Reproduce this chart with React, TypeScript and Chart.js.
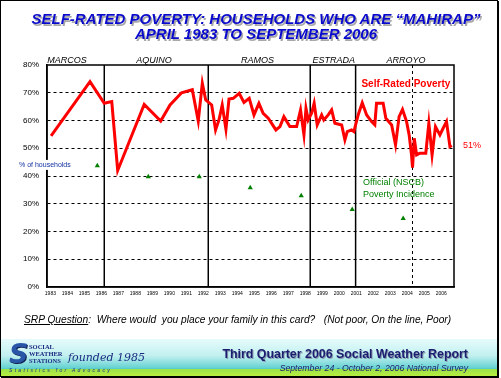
import React, { useEffect, useRef } from 'react';
import { Chart, registerables } from 'chart.js';

Chart.register(...registerables);

// Self-rated poverty survey dates (decimal years) and values (%)
const srpDates = [
  1983.04, 1985.33, 1986.17, 1986.61, 1986.96, 1988.52, 1989.49, 1990.04, 1990.72, 1991.35,
  1991.70, 1991.94, 1992.14, 1992.49, 1992.72, 1992.92, 1993.11, 1993.33, 1993.51, 1993.76,
  1994.11, 1994.39, 1994.70, 1994.98, 1995.27, 1995.52, 1995.82, 1996.27, 1996.51, 1996.74,
  1997.09, 1997.49, 1997.72, 1997.92, 1998.04, 1998.17, 1998.37, 1998.52, 1998.70, 1998.96,
  1999.09, 1999.35, 1999.55, 1999.74, 2000.14, 2000.33, 2000.47, 2000.72, 2000.86, 2001.11,
  2001.35, 2001.61, 2001.90, 2002.09, 2002.19, 2002.58, 2002.74, 2003.08, 2003.31, 2003.52,
  2003.72, 2003.96, 2004.11, 2004.25, 2004.31, 2004.41, 2004.55, 2004.74, 2005.09, 2005.27,
  2005.46, 2005.66, 2005.92, 2006.11, 2006.31, 2006.51, 2006.62,
];
const srpValues = [
  54.5, 74, 66.2, 66.8, 42, 65.8, 59.8, 65.6, 70, 71.1,
  59.8, 73.4, 67.4, 65.6, 56.6, 60.2, 65.6, 56.9, 67.7, 68,
  69.8, 66.5, 68, 62, 66.2, 62.6, 60.8, 56.6, 57.8, 61.4,
  57.8, 57.8, 63.8, 54.8, 64.4, 60.2, 62.6, 66.2, 58.4, 62,
  60.2, 62, 63.8, 59, 58.4, 53, 56, 56.6, 56, 62,
  66.4, 62, 59.6, 58.4, 66.2, 66.2, 60.8, 58.4, 51.2, 61.4,
  64, 59.6, 54.8, 47.6, 43, 53.6, 47.6, 48.2, 48.2, 59,
  47.6, 57.8, 54.8, 57.2, 59.6, 50.6, 51,
];

// Official (NSCB) poverty incidence
const nscbDates = [1985.76, 1988.76, 1991.76, 1994.76, 1997.76, 2000.76, 2003.76];
const nscbValues = [43.7, 39.7, 39.7, 35.8, 32.9, 27.9, 24.7];

const yearTicks = [
  1983, 1984, 1985, 1986, 1987, 1988, 1989, 1990, 1991, 1992, 1993, 1994,
  1995, 1996, 1997, 1998, 1999, 2000, 2001, 2002, 2003, 2004, 2005, 2006,
];
const yTicks = [0, 10, 20, 30, 40, 50, 60, 70, 80];

const presidents = ['MARCOS', 'AQUINO', 'RAMOS', 'ESTRADA', 'ARROYO'];
const presidentLabelDates = [1983.98, 1989.09, 1995.18, 1999.68, 2003.92];
const transitionDates = [1986.17, 1992.29, 1998.29, 2000.96];
const electionDates = [2004.25];

const FONT = '"Liberation Sans", Arial, sans-serif';

const annotations = {
  id: 'annotations',
  beforeDatasetsDraw(chart: any) {
    const { ctx, chartArea: a, scales } = chart;
    const x = scales.x;
    ctx.save();
    ctx.strokeStyle = '#000';
    ctx.lineWidth = 1.5;
    transitionDates.forEach((d) => {
      const px = x.getPixelForValue(d);
      ctx.beginPath();
      ctx.moveTo(px, a.top);
      ctx.lineTo(px, a.bottom);
      ctx.stroke();
    });
    ctx.lineWidth = 1;
    ctx.setLineDash([3, 3]);
    electionDates.forEach((d) => {
      const px = Math.round(x.getPixelForValue(d)) + 0.5;
      ctx.beginPath();
      ctx.moveTo(px, a.top);
      ctx.lineTo(px, a.bottom);
      ctx.stroke();
    });
    ctx.restore();
  },
  afterDatasetsDraw(chart: any) {
    const { ctx, chartArea: a, scales } = chart;
    const x = scales.x;
    const y = scales.y;
    ctx.save();
    ctx.strokeStyle = '#000';
    ctx.lineWidth = 1.5;
    ctx.strokeRect(a.left, a.top, a.right - a.left, a.bottom - a.top);

    ctx.fillStyle = '#000';
    ctx.font = `italic 9px ${FONT}`;
    ctx.textAlign = 'center';
    ctx.textBaseline = 'middle';
    presidents.forEach((p, i) => {
      ctx.fillText(p, x.getPixelForValue(presidentLabelDates[i]), a.top - 5);
    });

    ctx.fillStyle = '#ff0000';
    ctx.font = `bold 10px ${FONT}`;
    ctx.fillText('Self-Rated Poverty', x.getPixelForValue(2003.92), y.getPixelForValue(73.2));

    ctx.font = `9px ${FONT}`;
    ctx.textAlign = 'left';
    ctx.fillText(`${srpValues[srpValues.length - 1]}%`, a.right + 9, y.getPixelForValue(51));

    ctx.fillStyle = '#008000';
    ctx.fillText('Official (NSCB)', x.getPixelForValue(2001.4), y.getPixelForValue(37.5));
    ctx.fillText('Poverty Incidence', x.getPixelForValue(2001.4), y.getPixelForValue(33.5));

    ctx.font = `7px ${FONT}`;
    const label = '% of households';
    const w = ctx.measureText(label).width;
    const ly = y.getPixelForValue(44);
    ctx.fillStyle = '#fff';
    ctx.fillRect(18, ly - 5, w + 2, 10);
    ctx.fillStyle = '#1030a0';
    ctx.fillText(label, 19, ly);
    ctx.restore();
  },
};

export default function App() {
  const ref = useRef<HTMLCanvasElement>(null);

  useEffect(() => {
    if (!ref.current) return;
    const chart = new Chart(ref.current, {
      type: 'line',
      data: {
        datasets: [
          {
            label: 'Self-Rated Poverty',
            data: srpDates.map((d, i) => ({ x: d, y: srpValues[i] })),
            borderColor: '#ff0000',
            backgroundColor: '#ff0000',
            borderWidth: 3,
            pointRadius: 0,
            tension: 0,
          },
          {
            label: 'Official (NSCB) Poverty Incidence',
            data: nscbDates.map((d, i) => ({ x: d, y: nscbValues[i] })),
            showLine: false,
            pointStyle: 'triangle',
            pointRadius: 3,
            borderWidth: 0,
            backgroundColor: '#008000',
            borderColor: '#008000',
          },
        ],
      },
      options: {
        animation: false,
        responsive: false,
        layout: { padding: { left: 15, top: 65, right: 47, bottom: 79 } },
        plugins: { legend: { display: false }, tooltip: { enabled: false }, title: { display: false } },
        scales: {
          x: {
            type: 'linear',
            min: 1982.8,
            max: 2006.75,
            afterBuildTicks: (scale: any) => {
              scale.ticks = yearTicks.map((v) => ({ value: v }));
            },
            afterFit: (scale: any) => {
              scale.height = 12;
            },
            grid: { display: false, drawTicks: false },
            border: { display: true, color: '#000', width: 1.5 },
            ticks: {
              autoSkip: false,
              maxRotation: 0,
              padding: 4,
              color: '#000',
              font: { size: 5, family: FONT },
              callback: (v: any) => `${v}`,
            },
          },
          y: {
            min: 0,
            max: 80,
            afterBuildTicks: (scale: any) => {
              scale.ticks = yTicks.map((v) => ({ value: v }));
            },
            afterFit: (scale: any) => {
              scale.width = 32;
            },
            grid: {
              drawTicks: false,
              color: (c: any) => (c.tick && (c.tick.value === 0 || c.tick.value === 80) ? 'rgba(0,0,0,0)' : '#000'),
              lineWidth: 1,
            },
            border: { display: true, color: '#000', width: 1.5, dash: [3, 3] },
            ticks: {
              padding: 8,
              color: '#000',
              font: { size: 8, family: FONT },
              callback: (v: any) => `${v}%`,
            },
          },
        },
      },
      plugins: [annotations],
    });
    return () => chart.destroy();
  }, []);

  return (
    <div style={{ position: 'fixed', left: 0, top: 0, width: 501, height: 378, background: '#fff', overflow: 'hidden', fontFamily: FONT }}>
      <canvas ref={ref} width={501} height={378} style={{ position: 'absolute', left: 0, top: 0, display: 'block' }} />
      <div style={{ position: 'absolute', left: 0, top: 0, width: 496, height: 375, border: '1px solid #000', boxShadow: '1px 1px 0 #000', pointerEvents: 'none' }} />
      <div style={{ position: 'absolute', left: 6, top: 11, width: 500, textAlign: 'center', color: '#0a0acc', fontWeight: 'bold', fontStyle: 'italic', fontSize: 15, lineHeight: '15px', textShadow: '1.5px 1.5px 0 #a8a8a8', whiteSpace: 'nowrap' }}>
        <div>SELF-RATED POVERTY: HOUSEHOLDS WHO ARE “MAHIRAP”</div>
        <div>APRIL 1983 TO SEPTEMBER 2006</div>
      </div>
      <div style={{ position: 'absolute', left: 24, top: 314, fontStyle: 'italic', fontSize: 10.2, whiteSpace: 'pre', color: '#000' }}>
        <span style={{ textDecoration: 'underline' }}>SRP Question</span>
        {':  Where would  you place your family in this card?   (Not poor, On the line, Poor)'}
      </div>
      <div style={{ position: 'absolute', left: 1, top: 339, width: 496, height: 37, background: 'linear-gradient(to bottom, #e6fbfb 0%, #c2f0f0 45%, #66d2d2 78%, #58cccc 80%, #9be24a 82%, #b8ee40 100%)' }} />
      <div style={{ position: 'absolute', left: 9, top: 338, fontSize: 27, fontWeight: 'bold', fontStyle: 'italic', color: '#2a56a8', fontFamily: '"DejaVu Sans", sans-serif', textShadow: '1px 1px 0 #102050' }}>S</div>
      <div style={{ position: 'absolute', left: 29, top: 343, fontSize: 6.5, lineHeight: '7px', fontWeight: 'bold', color: '#1a2a80', fontFamily: '"Liberation Serif", serif' }}>
        <div>SOCIAL</div>
        <div>WEATHER</div>
        <div>STATIONS</div>
      </div>
      <div style={{ position: 'absolute', left: 68, top: 351, fontSize: 11, fontStyle: 'italic', color: '#1a2a80', fontFamily: '"DejaVu Serif", serif' }}>founded 1985</div>
      <div style={{ position: 'absolute', left: 9, top: 367, fontSize: 5, letterSpacing: 2.3, fontStyle: 'italic', color: '#1a2a80' }}>Statistics for Advocacy</div>
      <div style={{ position: 'absolute', right: 33, top: 347, fontSize: 12.4, fontWeight: 'bold', color: '#1c1c70', textShadow: '1px 1px 0 #8aa0b0', whiteSpace: 'nowrap' }}>Third Quarter 2006 Social Weather Report</div>
      <div style={{ position: 'absolute', right: 33, top: 363, fontSize: 8.7, fontStyle: 'italic', color: '#1c1c70', whiteSpace: 'nowrap' }}>September 24 - October 2, 2006 National Survey</div>
    </div>
  );
}
